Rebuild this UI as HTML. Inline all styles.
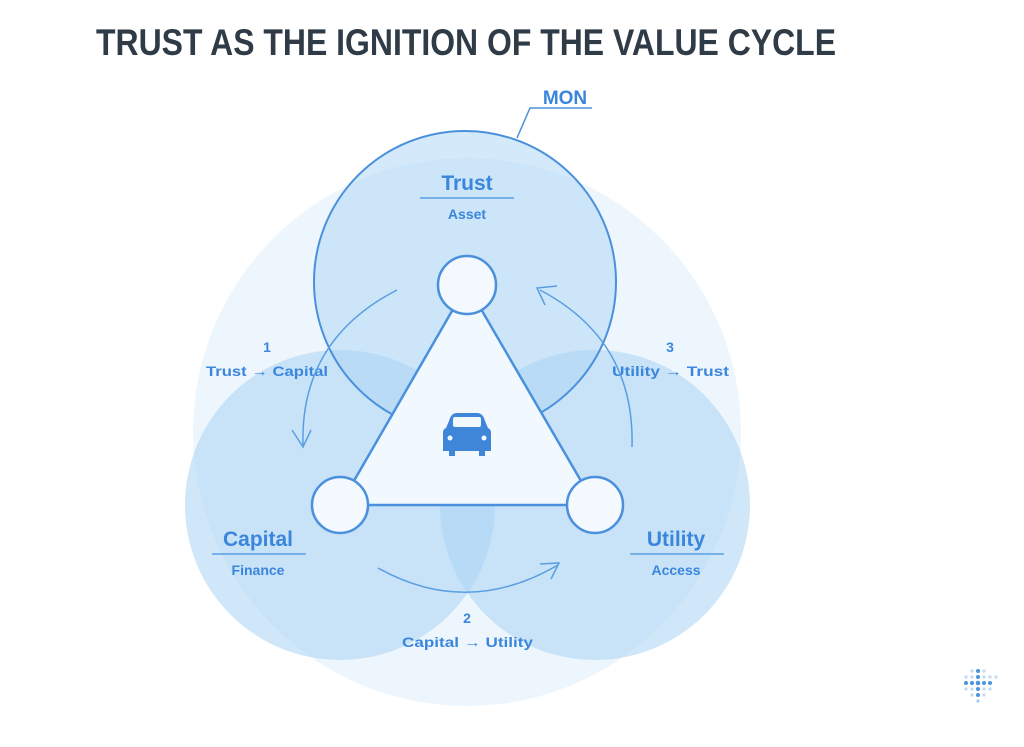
<!DOCTYPE html>
<html><head><meta charset="utf-8"><style>
html,body{margin:0;padding:0;background:#fff;}
svg{display:block;}
text{font-family:"Liberation Sans","DejaVu Sans",sans-serif;font-weight:bold;}
</style></head><body>
<svg width="1024" height="747" viewBox="0 0 1024 747" xmlns="http://www.w3.org/2000/svg">
<text x="96" y="55" font-size="37" fill="#2f3b46" textLength="740" lengthAdjust="spacingAndGlyphs">TRUST AS THE IGNITION OF THE VALUE CYCLE</text>
<circle cx="467" cy="432" r="274" fill="#eef6fd"/>
<circle cx="340" cy="505" r="155" fill="#a9d3f4" fill-opacity="0.55"/>
<circle cx="595" cy="505" r="155" fill="#a9d3f4" fill-opacity="0.55"/>
<circle cx="465" cy="282" r="151" fill="#a9d3f4" fill-opacity="0.5" stroke="#4a90dc" stroke-width="2"/>
<polygon points="467,285 340,505 595,505" fill="#f1f8fe" stroke="#4a90dc" stroke-width="2.5"/>
<circle cx="467" cy="285" r="29" fill="#f3f9fe" stroke="#4a90dc" stroke-width="2.5"/>
<circle cx="340" cy="505" r="28" fill="#f3f9fe" stroke="#4a90dc" stroke-width="2.5"/>
<circle cx="595" cy="505" r="28" fill="#f3f9fe" stroke="#4a90dc" stroke-width="2.5"/>
<polyline points="517,138 530,108 592,108" fill="none" stroke="#4a90dc" stroke-width="1.5"/>
<text x="565" y="104" font-size="19" fill="#3a86dc" text-anchor="middle">MON</text>
<text x="467" y="190" font-size="21" fill="#3a86dc" text-anchor="middle">Trust</text>
<line x1="420" y1="198" x2="514" y2="198" stroke="#5aa0e4" stroke-width="1.5"/>
<text x="467" y="219" font-size="14" fill="#3a86dc" text-anchor="middle">Asset</text>
<text x="258" y="546" font-size="21" fill="#3a86dc" text-anchor="middle">Capital</text>
<line x1="212" y1="554" x2="306" y2="554" stroke="#5aa0e4" stroke-width="1.5"/>
<text x="258" y="575" font-size="14" fill="#3a86dc" text-anchor="middle">Finance</text>
<text x="676" y="546" font-size="21" fill="#3a86dc" text-anchor="middle">Utility</text>
<line x1="630" y1="554" x2="724" y2="554" stroke="#5aa0e4" stroke-width="1.5"/>
<text x="676" y="575" font-size="14" fill="#3a86dc" text-anchor="middle">Access</text>
<text x="267" y="352" font-size="14" fill="#3a86dc" text-anchor="middle">1</text>
<text x="206" y="376" font-size="14" fill="#3a86dc" textLength="122" lengthAdjust="spacingAndGlyphs">Trust → Capital</text>
<text x="670" y="352" font-size="14" fill="#3a86dc" text-anchor="middle">3</text>
<text x="612" y="376" font-size="14" fill="#3a86dc" textLength="117" lengthAdjust="spacingAndGlyphs">Utility → Trust</text>
<text x="467" y="623" font-size="14" fill="#3a86dc" text-anchor="middle">2</text>
<text x="402" y="647" font-size="14" fill="#3a86dc" textLength="131" lengthAdjust="spacingAndGlyphs">Capital → Utility</text>
<g fill="none" stroke="#5a9ee2" stroke-width="1.5">
<path d="M397,290 Q300,340 303,445"/>
<polyline points="292,430 303,447 311,430"/>
<path d="M632,447 Q635,340 540,290"/>
<polyline points="545,305 537,288 557,286"/>
<path d="M378,568 Q467,618 558,565"/>
<polyline points="540,564 559,563 551,579"/>
</g>
<g fill="#3f86d8">
<path d="M449,421 Q451,413 457,413 L477,413 Q483,413 485,421 L488,428 Q491,429 491,433 L491,451 L485,451 L485,456 L479,456 L479,451 L455,451 L455,456 L449,456 L449,451 L443,451 L443,433 Q443,429 446,428 Z"/>
<rect x="453" y="417" width="28" height="10" rx="2" fill="#f1f8fe"/>
<circle cx="450" cy="438" r="2.5" fill="#f1f8fe"/>
<circle cx="484" cy="438" r="2.5" fill="#f1f8fe"/>
</g>
<g fill="#4a95e0">
<g opacity="0.35">
<circle cx="966" cy="677" r="1.6"/><circle cx="972" cy="677" r="1.6"/><circle cx="984" cy="677" r="1.6"/><circle cx="990" cy="677" r="1.6"/><circle cx="996" cy="677" r="1.6"/>
<circle cx="966" cy="689" r="1.6"/><circle cx="972" cy="689" r="1.6"/><circle cx="984" cy="689" r="1.6"/><circle cx="990" cy="689" r="1.6"/>
<circle cx="972" cy="695" r="1.6"/><circle cx="984" cy="695" r="1.6"/><circle cx="972" cy="671" r="1.6"/><circle cx="984" cy="671" r="1.6"/>
</g>
<circle cx="966" cy="683" r="2"/><circle cx="972" cy="683" r="2"/><circle cx="978" cy="683" r="2.3"/><circle cx="984" cy="683" r="2"/><circle cx="990" cy="683" r="2"/>
<circle cx="978" cy="671" r="2"/><circle cx="978" cy="677" r="2"/><circle cx="978" cy="689" r="2"/><circle cx="978" cy="695" r="2"/><circle cx="978" cy="701" r="1.6" opacity="0.5"/>
</g>
</svg>
</body></html>
